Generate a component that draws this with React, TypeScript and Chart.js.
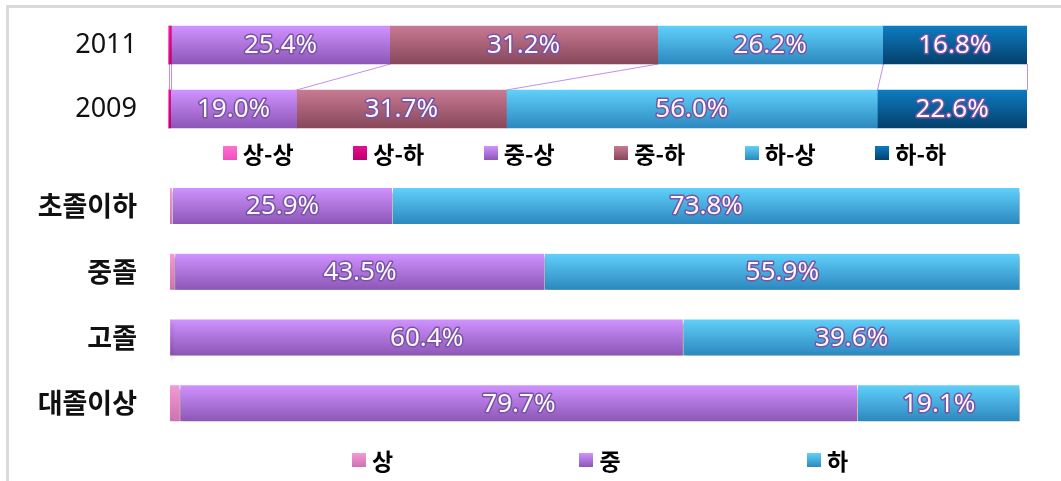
import React, { useEffect, useRef } from 'react';
import { Chart, registerables } from 'chart.js';

Chart.register(...registerables);

// ---------- data ----------
const yearLabels = ['2011', '2009'];
const transitionNames = ['상-상', '상-하', '중-상', '중-하', '하-상', '하-하'];
const sangSang = [0.1, 0.1];
const sangHa = [0.3, 0.3];
const jungSang = [25.4, 19.0];
const jungHa = [31.2, 31.7];
const haSang = [26.2, 56.0];
const haHa = [16.8, 22.6];

const eduLabels = ['초졸이하', '중졸', '고졸', '대졸이상'];
const classNames = ['상', '중', '하'];
const eduSang = [0.3, 0.6, 0.0, 1.2];
const eduJung = [25.9, 43.5, 60.4, 79.7];
const eduHa = [73.8, 55.9, 39.6, 19.1];

// ---------- styles ----------
const transitionColors: [string, string][] = [
  ['#ff70d0', '#f050bc'],
  ['#e0108c', '#c0006e'],
  ['#d092ff', '#8c56b6'],
  ['#c87a92', '#87475a'],
  ['#60d0fa', '#2c88bf'],
  ['#0c7cc0', '#05406c'],
];
const classColors: [string, string][] = [
  ['#f49ad6', '#d070b0'],
  ['#d092ff', '#8c56b6'],
  ['#60d0fa', '#2c88bf'],
];

function barFill(top: string, bottom: string, thickness: number) {
  return (c: any) => {
    const chart = c.chart;
    const ys = chart.scales && chart.scales.y;
    if (!ys || !chart.chartArea || c.dataIndex === undefined) return top;
    const yc = ys.getPixelForValue(c.dataIndex);
    const g = chart.ctx.createLinearGradient(0, yc - thickness / 2, 0, yc + thickness / 2);
    g.addColorStop(0, top);
    g.addColorStop(1, bottom);
    return g;
  };
}

const valueLabelPlugin = {
  id: 'valueLabels',
  afterDatasetsDraw(chart: any, _args: any, opts: any) {
    const ctx = chart.ctx;
    ctx.save();
    ctx.font = opts.font;
    ctx.textAlign = 'center';
    ctx.textBaseline = 'middle';
    ctx.lineJoin = 'round';
    chart.data.datasets.forEach((ds: any, di: number) => {
      const meta = chart.getDatasetMeta(di);
      meta.data.forEach((el: any, i: number) => {
        const v = (ds.rawValues || ds.data)[i];
        if (v < opts.minValue) return;
        const p = el.getProps(['x', 'base', 'y'], true);
        const cx = (p.x + p.base) / 2;
        const t = v.toFixed(1) + '%';
        ctx.lineWidth = 3;
        ctx.strokeStyle = '#7a52a6';
        ctx.strokeText(t, cx, p.y + 1);
        ctx.fillStyle = '#fcf9ff';
        ctx.fillText(t, cx, p.y + 1);
      });
    });
    ctx.restore();
  },
};

const seriesLinePlugin = {
  id: 'seriesLines',
  beforeDatasetsDraw(chart: any, _args: any, opts: any) {
    if (!opts.enabled) return;
    const ctx = chart.ctx;
    ctx.save();
    ctx.strokeStyle = opts.color;
    ctx.lineWidth = 1;
    chart.data.datasets.forEach((_ds: any, di: number) => {
      const els = chart.getDatasetMeta(di).data;
      for (let i = 0; i < els.length - 1; i++) {
        const a = els[i].getProps(['x', 'y', 'height'], true);
        const b = els[i + 1].getProps(['x', 'y', 'height'], true);
        ctx.beginPath();
        ctx.moveTo(Math.round(a.x) + 0.5, a.y + a.height / 2);
        ctx.lineTo(Math.round(b.x) + 0.5, b.y - b.height / 2);
        ctx.stroke();
      }
    });
    ctx.restore();
  },
};

const shadowPlugin = {
  id: 'barShadow',
  beforeDatasetsDraw(chart: any, _args: any, opts: any) {
    if (!opts.enabled) return;
    const ctx = chart.ctx;
    ctx.save();
    ctx.shadowColor = 'rgba(0,0,0,0.35)';
    ctx.shadowBlur = 3;
    ctx.shadowOffsetX = 2;
    ctx.shadowOffsetY = 4;
  },
  afterDatasetsDraw(chart: any, _args: any, opts: any) {
    if (!opts.enabled) return;
    chart.ctx.restore();
  },
};

const rowLegendPlugin = {
  id: 'rowLegend',
  afterDraw(chart: any, _args: any, opts: any) {
    const { ctx, chartArea } = chart;
    const n = chart.data.datasets.length;
    const cx = (chartArea.left + chartArea.right) / 2 + opts.offsetX;
    const y = chartArea.bottom + opts.offsetY;
    const box = opts.box;
    ctx.save();
    ctx.font = opts.font;
    ctx.textBaseline = 'middle';
    ctx.textAlign = 'left';
    chart.data.datasets.forEach((ds: any, i: number) => {
      const tw = ctx.measureText(ds.label).width;
      const itemW = box + opts.gap + tw;
      const icx = cx + (i - (n - 1) / 2) * opts.spacing;
      const left = icx - itemW / 2;
      const g = ctx.createLinearGradient(0, y - box / 2, 0, y + box / 2);
      g.addColorStop(0, ds.swatch[0]);
      g.addColorStop(1, ds.swatch[1]);
      ctx.fillStyle = g;
      ctx.fillRect(Math.round(left), Math.round(y - box / 2), box, box);
      ctx.fillStyle = '#000';
      ctx.fillText(ds.label, left + box + opts.gap, y + 1);
    });
    ctx.restore();
  },
};

function fixAxis(width: number) {
  return (s: any) => {
    s.width = width;
    s.paddingTop = 0;
    s.paddingBottom = 0;
  };
}

function makeTopConfig(): any {
  const series = [sangSang, sangHa, jungSang, jungHa, haSang, haHa];
  const totals = yearLabels.map((_, i) => series.reduce((s, arr) => s + arr[i], 0));
  const thickness = 38;
  return {
    type: 'bar',
    data: {
      labels: yearLabels,
      datasets: series.map((arr, k) => ({
        label: transitionNames[k],
        data: arr.map((v, i) => (v / totals[i]) * 100),
        rawValues: arr,
        swatch: transitionColors[k],
        backgroundColor: barFill(transitionColors[k][0], transitionColors[k][1], thickness),
        borderWidth: 0,
        barThickness: thickness,
      })),
    },
    options: {
      indexAxis: 'y',
      responsive: false,
      animation: false,
      layout: { padding: { left: 0, right: 34, top: 13, bottom: 34 } },
      scales: {
        x: { stacked: true, min: 0, max: 100, display: false },
        y: {
          stacked: true,
          grid: { display: false },
          border: { display: false },
          ticks: { padding: 23, color: '#111', font: { family: '"Noto Sans"', size: 27 } },
          afterFit: fixAxis(168),
        },
      },
      plugins: {
        legend: { display: false },
        tooltip: { enabled: false },
        valueLabels: { font: '26px "Noto Sans"', minValue: 1 },
        seriesLines: { enabled: true, color: '#c48cf0' },
        barShadow: { enabled: false },
        rowLegend: { font: 'bold 23px "Noto Sans CJK KR"', box: 14, gap: 6, spacing: 130.5, offsetX: -13, offsetY: 12 },
      },
    },
    plugins: [seriesLinePlugin, shadowPlugin, valueLabelPlugin, rowLegendPlugin],
  };
}

function makeBottomConfig(): any {
  const series = [eduSang, eduJung, eduHa];
  const thickness = 36;
  return {
    type: 'bar',
    data: {
      labels: eduLabels,
      datasets: series.map((arr, k) => ({
        label: classNames[k],
        data: arr,
        swatch: classColors[k],
        backgroundColor: barFill(classColors[k][0], classColors[k][1], thickness),
        borderColor: 'rgba(255,255,255,0.85)',
        borderWidth: { left: 0, right: 1, top: 0, bottom: 0 },
        borderSkipped: false,
        barThickness: thickness,
      })),
    },
    options: {
      indexAxis: 'y',
      responsive: false,
      animation: false,
      layout: { padding: { left: 0, right: 41, top: 3, bottom: 45 } },
      scales: {
        x: { stacked: true, min: 0, max: 100, display: false },
        y: {
          stacked: true,
          grid: { display: false },
          border: { display: false },
          ticks: { padding: 25, color: '#111', font: { family: '"Noto Sans CJK KR"', size: 27, weight: 'bold' } },
          afterFit: fixAxis(170),
        },
      },
      plugins: {
        legend: { display: false },
        tooltip: { enabled: false },
        valueLabels: { font: '26px "Noto Sans"', minValue: 2 },
        seriesLines: { enabled: false },
        barShadow: { enabled: true },
        rowLegend: { font: 'bold 23px "Noto Sans CJK KR"', box: 14, gap: 6, spacing: 227.5, offsetX: 5, offsetY: 24 },
      },
    },
    plugins: [seriesLinePlugin, shadowPlugin, valueLabelPlugin, rowLegendPlugin],
  };
}

export default function App() {
  const topRef = useRef<HTMLCanvasElement>(null);
  const botRef = useRef<HTMLCanvasElement>(null);

  useEffect(() => {
    const c1 = new Chart(topRef.current as HTMLCanvasElement, makeTopConfig());
    const c2 = new Chart(botRef.current as HTMLCanvasElement, makeBottomConfig());
    return () => {
      c1.destroy();
      c2.destroy();
    };
  }, []);

  return (
    <div style={{ position: 'fixed', left: 0, top: 0, width: 1061, height: 481, background: '#fff', overflow: 'hidden' }}>
      <div
        style={{
          position: 'absolute',
          left: 6,
          top: 5,
          width: 1061,
          height: 481,
          borderTop: '3px solid #dadada',
          borderLeft: '3px solid #dadada',
        }}
      />
      <canvas ref={topRef} width={1061} height={175} style={{ position: 'absolute', left: 0, top: 0 }} />
      <canvas ref={botRef} width={1061} height={311} style={{ position: 'absolute', left: 0, top: 170 }} />
    </div>
  );
}
